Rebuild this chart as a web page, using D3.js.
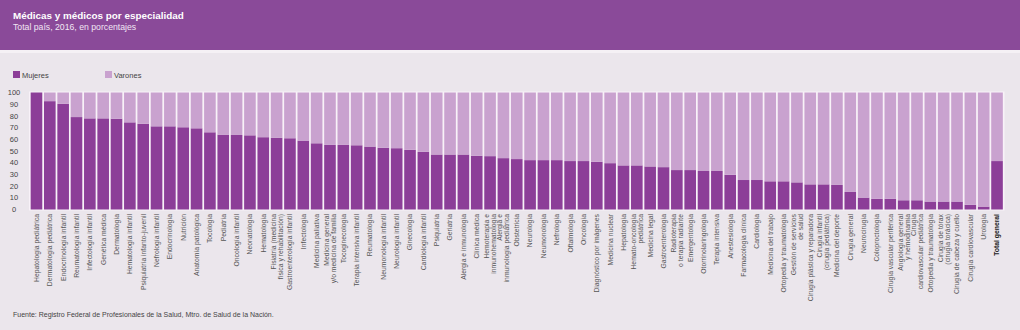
<!DOCTYPE html>
<html><head><meta charset="utf-8">
<script src="https://cdn.jsdelivr.net/npm/d3@7"></script>
<style>
html,body{margin:0;padding:0;background:#ebe6ec;}
svg{display:block;font-family:"Liberation Sans",Arial,sans-serif;}
</style></head>
<body><svg id="c" width="1020" height="330"></svg>
<script>
const categories = [
"Hepatología pediátrica","Dermatología pediátrica","Endocrinología infantil","Reumatología infantil",
"Infectología infantil","Genética médica","Dermatología","Hematología infantil",
"Psiquiatría infanto-juvenil","Nefrología infantil","Endocrinología","Nutrición",
"Anatomía patológica","Tocología","Pediatría","Oncología infantil","Neonatología","Hematología",
"Fisiatría (medicina\nfísica y rehabilitación)","Gastroenterología infantil","Infectología",
"Medicina paliativa","Medicina general\ny/o medicina de familia","Tocoginecología",
"Terapia intensiva infantil","Reumatología","Neumonología infantil","Neurología infantil",
"Ginecología","Cardiología infantil","Psiquiatría","Geriatría","Alergia e inmunología",
"Clínica médica","Hemoterapia e\ninmunohematología","Alergia e\ninmunología pediátrica",
"Obstetricia","Neurología","Neumonología","Nefrología","Oftalmología","Oncología",
"Diagnóstico por imágenes","Medicina nuclear","Hepatología","Hemato-oncología\npediátrica",
"Medicina legal","Gastroenterología","Radioterapia\no terapia radiante","Emergentología",
"Otorrinolaringología","Terapia intensiva","Anestesiología","Farmacología clínica",
"Cardiología","Medicina del trabajo","Ortopedia y traumatología","Gestión de servicios\nde salud",
"Cirugía plástica y reparadora","Cirugía infantil\n(cirugía pediátrica)","Medicina del deporte",
"Cirugía general","Neurocirugía","Coloproctología","Cirugía vascular periférica",
"Angiología general\ny hemodinamia","Cirugía\ncardiovascular pediátrica","Ortopedia y traumatología",
"Cirugía de tórax\n(cirugía torácica)","Cirugía de cabeza y cuello","Cirugía cardiovascular",
"Urología","Total general"];

const mujeres = [
100,92.6,90.3,79,77.9,77.9,77.6,74.5,73.3,71.1,71.1,70.3,69.4,66,64,63.7,63.4,61.8,
61.2,60.9,58.9,56.6,55.2,55.2,54.9,53.8,52.7,52.4,51,49.3,47,47,47,45.9,45.6,43.9,
43.1,42.2,42.2,42.2,41.4,41.4,40.8,39.6,37.7,37.7,36.8,36.2,33.7,33.7,32.9,32.9,29.7,25.2,
25.2,24.1,24.1,23.2,21.5,21.5,21,15,10.2,9.1,9.1,7.9,7.9,6.8,6.8,6.8,4,2.5,41.4];
const varones = mujeres.map(v => 100 - v);

const yTicks = [0,10,20,30,40,50,60,70,80,90,100];
const seriesNames = ["Mujeres","Varones"];
const colors = ["#8c3e98","#c9a2cf"];

const svg = d3.select("#c");
svg.append("rect").attr("x",0).attr("y",0).attr("width",1020).attr("height",330).attr("fill","#ebe6ec");
svg.append("rect").attr("x",0).attr("y",0).attr("width",1020).attr("height",50).attr("fill","#8a4a99");
svg.append("rect").attr("x",0).attr("y",50).attr("width",1020).attr("height",3).attr("fill","#f5f1f5");

svg.append("text").attr("x",13).attr("y",19).attr("fill","#fff").attr("font-weight","bold")
  .attr("font-size","9.9px").text("Médicas y médicos por especialidad");
svg.append("text").attr("x",13).attr("y",30).attr("fill","#f1e6f3")
  .attr("font-size","8.7px").text("Total país, 2016, en porcentajes");

// legend
const leg = svg.append("g");
seriesNames.forEach((n,i)=>{
  const lx = 13 + i*92;
  leg.append("rect").attr("x",lx).attr("y",71).attr("width",7).attr("height",7).attr("fill",colors[i]);
  leg.append("text").attr("x",lx+9).attr("y",77.5).attr("font-size","7.5px").attr("fill","#444").text(n);
});

const idx = categories.map((d,i)=>i);
const x = d3.scaleBand().domain(idx).range([30,1003.5]).paddingInner(0.13).paddingOuter(0.05);
const y = d3.scaleLinear().domain([0,100]).range([209.5,92.5]);

// white backing for gaps
svg.append("rect").attr("x",29).attr("y",y(100)-1).attr("width",975.5).attr("height",y(0)-y(100)+2).attr("fill","#f8f2f8");

const stackData = idx.map(i=>({i, Mujeres:mujeres[i], Varones:varones[i]}));
const stack = d3.stack().keys(seriesNames)(stackData);
svg.append("g").selectAll("g").data(stack).join("g").attr("fill",(d,k)=>colors[k])
  .selectAll("rect").data(d=>d).join("rect")
  .attr("x",d=>x(d.data.i)).attr("width",x.bandwidth())
  .attr("y",d=>y(d[1])).attr("height",d=>y(d[0])-y(d[1]));

// y axis
const yAxis = svg.append("g").attr("transform","translate(14,0)");
yAxis.selectAll("text").data(yTicks).join("text")
  .attr("x",0).attr("y",d=>y(d)).attr("dy","0.35em").attr("text-anchor","middle")
  .attr("font-size","7.5px").attr("fill","#444").text(d=>d);

// x labels
const lab = svg.append("g");
idx.forEach(i=>{
  const lines = categories[i].split("\n");
  const cx = x(i) + x.bandwidth()/2;
  const t = lab.append("text").attr("transform",`translate(${cx},214) rotate(-90)`)
    .attr("text-anchor","end").attr("font-size","6.8px")
    .attr("fill", i===idx.length-1 ? "#222" : "#555")
    .attr("font-weight", i===idx.length-1 ? "bold" : "normal");
  const lh = 7;
  lines.forEach((ln,k)=>{
    t.append("tspan").attr("x",0).attr("y", (k - (lines.length-1)/2)*lh).attr("dy","0.35em").text(ln);
  });
});

svg.append("text").attr("x",13).attr("y",317).attr("font-size","7px").attr("fill","#444")
  .text("Fuente: Registro Federal de Profesionales de la Salud, Mtro. de Salud de la Nación.");
</script></body></html>
